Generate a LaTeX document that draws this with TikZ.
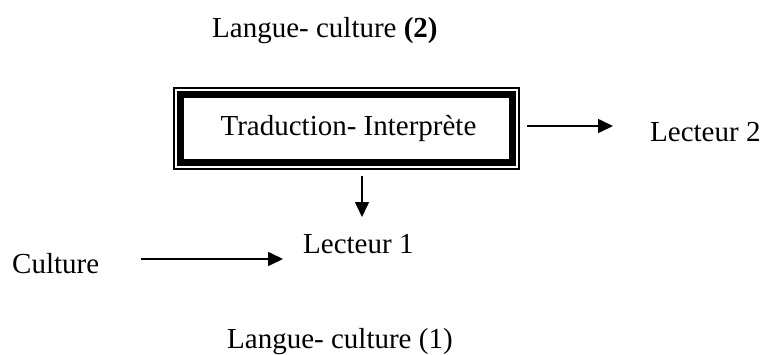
\documentclass[tikz,border=0pt]{standalone}
\usepackage{fontspec}
\setmainfont{Liberation Serif}
\usetikzlibrary{arrows.meta}
\begin{document}
\begin{tikzpicture}[x=1pt,y=1pt,
  lbl/.style={inner sep=0pt,anchor=base west,font=\fontsize{29}{34}\selectfont},
  arr/.style={line width=1.6pt,-{Triangle[length=15pt,width=14pt]}}]
\useasboundingbox (0,0) rectangle (763,354);
\node[lbl] (lc2) at (212,316) {Langue- culture \textbf{(2)}};
\node[draw,line width=1.1pt,minimum width=345pt,minimum height=81pt,inner sep=0pt,
  font=\fontsize{29}{34}\selectfont] (box) at (346.5,225.5) {\hspace{4pt}Traduction- Interprète};
\draw[line width=7.5pt] ([shift={(7,-7)}]box.north west) rectangle ([shift={(-7,7)}]box.south east);
\node[lbl] (l2) at (650,212) {Lecteur 2};
\node[lbl] (l1) at (303,101) {Lecteur 1};
\node[lbl] (cu) at (12,81) {Culture};
\node[lbl] (lc1) at (227,6) {Langue- culture (1)};
\coordinate (a1) at (box.east |- 0,228);
\draw[arr,shorten <=7pt,shorten >=37pt] (a1) -- (l2.west |- a1);
\coordinate (a2) at (362,0 |- box.south);
\draw[arr,shorten <=6pt] (a2) -- (362,137);
\coordinate (a3) at (cu.east |- 0,95);
\draw[arr,shorten <=42pt,shorten >=20pt] (a3) -- (l1.west |- a3);
\end{tikzpicture}
\end{document}
